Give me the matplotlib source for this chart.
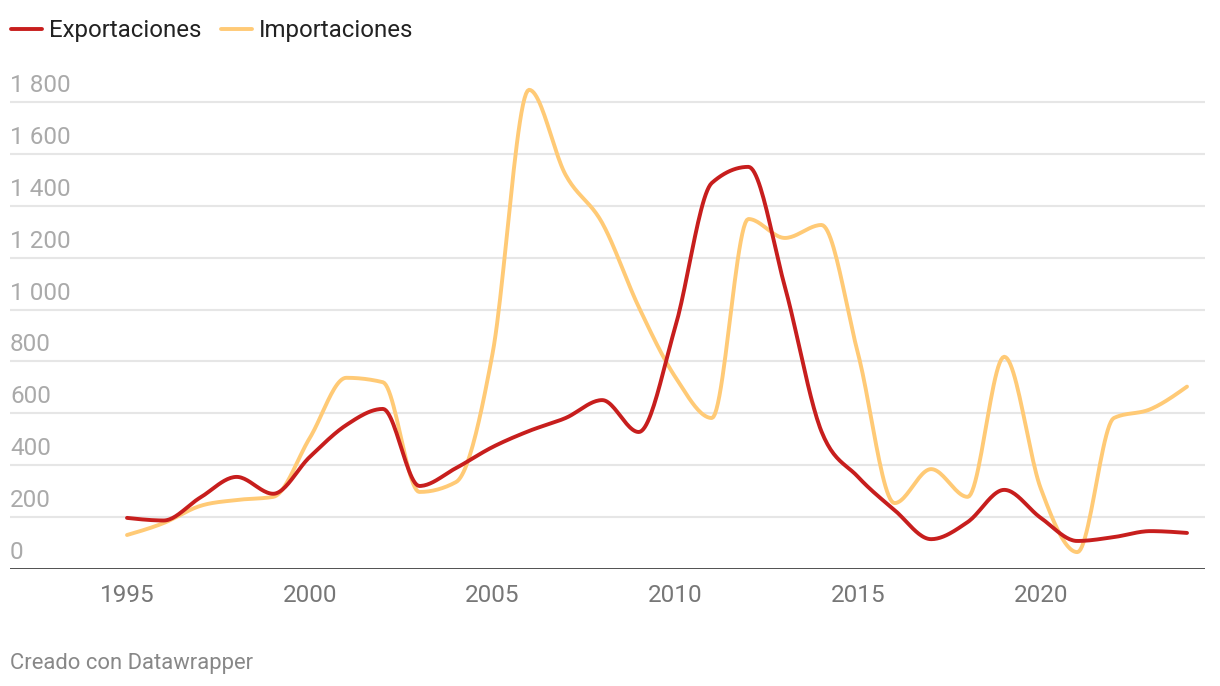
import numpy as np
import matplotlib
matplotlib.use("Agg")
import matplotlib.pyplot as plt
from matplotlib import transforms

years = list(range(1995, 2025))
exportaciones = [197, 187, 275, 355, 290, 432, 555, 617, 320, 389,
                 470, 532, 582, 651, 528, 933, 1488, 1550, 1087, 530,
                 355, 227, 115, 181, 305, 197, 108, 123, 146, 139]
importaciones = [131, 177, 243, 266, 278, 505, 737, 720, 297, 335,
                 830, 1847, 1519, 1334, 1010, 740, 582, 1349, 1276, 1326,
                 830, 254, 385, 278, 818, 310, 65, 582, 616, 703]
y_ticks = [0, 200, 400, 600, 800, 1000, 1200, 1400, 1600, 1800]
y_tick_labels = ["0", "200", "400", "600", "800", "1 000", "1 200", "1 400", "1 600", "1 800"]
x_ticks = [1995, 2000, 2005, 2010, 2015, 2020]
series_names = ["Exportaciones", "Importaciones"]
colors = ["#c71e1d", "#ffca76"]

plt.rcParams['font.family'] = ['Roboto', 'DejaVu Sans']


def monotone_x(x, y, n=24):
    """d3 curveMonotoneX rendering."""
    x = np.asarray(x, float)
    y = np.asarray(y, float)
    m = len(x)
    h = np.diff(x)
    s = np.diff(y) / h
    t = np.zeros(m)
    for i in range(1, m - 1):
        h0, h1 = h[i - 1], h[i]
        s0, s1 = s[i - 1], s[i]
        p = (s0 * h1 + s1 * h0) / (h0 + h1)
        t[i] = (np.sign(s0) + np.sign(s1)) * min(abs(s0), abs(s1), 0.5 * abs(p))
    t[0] = (3 * s[0] - t[1]) / 2
    t[-1] = (3 * s[-1] - t[-2]) / 2
    xs, ys = [], []
    for i in range(m - 1):
        dx = h[i]
        u = np.linspace(0, 1, n, endpoint=(i == m - 2))
        p0 = (x[i], y[i])
        p1 = (x[i] + dx / 3, y[i] + dx * t[i] / 3)
        p2 = (x[i + 1] - dx / 3, y[i + 1] - dx * t[i + 1] / 3)
        p3 = (x[i + 1], y[i + 1])
        b0 = (1 - u) ** 3
        b1 = 3 * (1 - u) ** 2 * u
        b2 = 3 * (1 - u) * u ** 2
        b3 = u ** 3
        xs.append(b0 * p0[0] + b1 * p1[0] + b2 * p2[0] + b3 * p3[0])
        ys.append(b0 * p0[1] + b1 * p1[1] + b2 * p2[1] + b3 * p3[1])
    return np.concatenate(xs), np.concatenate(ys)


W, H = 1220, 686
fig = plt.figure(figsize=(W / 100, H / 100), dpi=100)
ax_left, ax_right, ax_bottom, ax_top = 10, 1205, 569, 80
ax = fig.add_axes([ax_left / W, 1 - ax_bottom / H, (ax_right - ax_left) / W, (ax_bottom - ax_top) / H])

ppy = (1187 - 127) / 29.0
ax.set_xlim(1995 - (127 - ax_left) / ppy, 2024 + (ax_right - 1187) / ppy)
ppu = (569 - 102) / 1800.0
ax.set_ylim(0, (ax_bottom - ax_top) / ppu)

for side in ["top", "right", "left", "bottom"]:
    ax.spines[side].set_visible(False)

for v in y_ticks[1:]:
    ax.axhline(v, color="#e6e6e6", lw=1.5, zorder=1)
ax.axhline(0, color="#1d1d1d", lw=1.8, zorder=4)

trans = transforms.offset_copy(transforms.blended_transform_factory(ax.transAxes, ax.transData),
                               fig=fig, x=0, y=10, units="dots")
for v, lab in zip(y_ticks, y_tick_labels):
    ax.text(0, v, lab, transform=trans, ha="left", va="baseline", fontsize=17.5, color="#aaaaaa")
ax.set_yticks([])

ax.set_xticks(x_ticks)
ax.set_xticklabels([str(t) for t in x_ticks])
ax.tick_params(axis="x", length=0, pad=11, labelsize=17.5, labelcolor="#777777")

for vals, c, name in zip([exportaciones, importaciones][::-1], colors[::-1], series_names[::-1]):
    xs, ys = monotone_x(years, vals)
    ax.plot(xs, ys, color=c, lw=2.8, solid_capstyle="round", zorder=3, clip_on=False, label=name)

# legend
handles, labels = ax.get_legend_handles_labels()
leg = fig.legend(handles[::-1], labels[::-1], loc="center left", bbox_to_anchor=(11 / W, 1 - 31 / H),
                 ncol=2, frameon=False, fontsize=17.3, handlelength=1.3, handletextpad=0.27,
                 columnspacing=0.83, borderaxespad=0, borderpad=0)
for t in leg.get_texts():
    t.set_color("#222222")

fig.text(10 / W, 1 - 663 / H, "Creado con Datawrapper", ha="left", va="center", fontsize=15.8, color="#888888")

fig.savefig("out.png", dpi=100, facecolor="white")
